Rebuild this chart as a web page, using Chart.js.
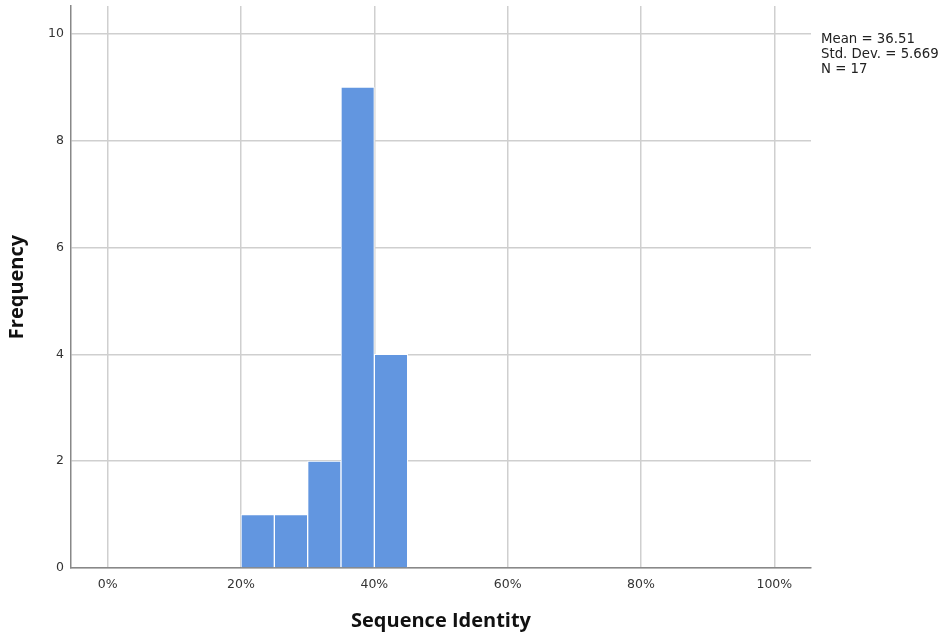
<!DOCTYPE html>
<html>
<head>
<meta charset="utf-8">
<script src="https://cdn.jsdelivr.net/npm/chart.js@4/dist/chart.umd.min.js"></script>
<style>
  html, body { margin: 0; padding: 0; background: #fff; }
  #wrap { position: relative; width: 942px; height: 636px; }
  #stats {
    position: absolute; left: 821px; top: 31px;
    font: 13.3px "DejaVu Sans", sans-serif; line-height: 15px; color: #222;
  }
</style>
</head>
<body>
<div id="wrap">
  <canvas id="histChart" width="942" height="636"></canvas>
  <div id="stats">Mean = 36.51<br>Std. Dev. = 5.669<br>N = 17</div>
</div>
<script>
// bin centres (% identity), 5% wide bins
const binCenters = [22.5, 27.5, 32.5, 37.5, 42.5];
const frequencies = [1, 1, 2, 9, 4];
const xTickValues = [0, 20, 40, 60, 80, 100];
const yTickValues = [0, 2, 4, 6, 8, 10];

const gridColor = '#cfcfcf';
const axisColor = '#888888';
const tickFont = { family: 'DejaVu Sans', size: 12.5 };
const titleFont = { family: 'Open Sans', size: 20, weight: 'bold' };

const ctx = document.getElementById('histChart');

new Chart(ctx, {
    type: 'bar',
    data: {
        datasets: [{
            data: binCenters.map((x, i) => ({ x: x, y: frequencies[i] })),
            backgroundColor: '#6296e0',
            borderColor: '#ffffff',
            borderWidth: 1,
            barPercentage: 1,
            categoryPercentage: 1
        }]
    },
    options: {
        responsive: false,
        animation: false,
        layout: { padding: { left: 0, right: 131, top: 6, bottom: 0 } },
        plugins: {
            legend: { display: false },
            tooltip: { enabled: false }
        },
        scales: {
            x: {
                type: 'linear',
                min: -5.5,
                max: 105.5,
                offset: false,
                afterBuildTicks: (scale) => { scale.ticks = xTickValues.map(v => ({ value: v })); },
                afterFit: (scale) => {
                    scale.height = 68;
                    scale.paddingLeft = 0;
                    scale.paddingRight = 0;
                },
                grid: { color: gridColor, lineWidth: 1.5, drawTicks: false, offset: false },
                border: { color: axisColor, width: 1.5 },
                ticks: {
                    color: '#333',
                    font: tickFont,
                    padding: 9,
                    maxRotation: 0,
                    callback: (v) => v + '%'
                },
                title: {
                    display: true,
                    text: 'Sequence Identity',
                    color: '#111',
                    font: titleFont,
                    padding: { top: 0, bottom: 3 }
                }
            },
            y: {
                min: 0,
                max: 10.52,
                afterBuildTicks: (scale) => { scale.ticks = yTickValues.map(v => ({ value: v })); },
                afterFit: (scale) => {
                    scale.width = 71;
                    scale.paddingTop = 0;
                    scale.paddingBottom = 0;
                },
                grid: { color: gridColor, lineWidth: 1.5, drawTicks: false },
                border: { color: axisColor, width: 1.5 },
                ticks: {
                    color: '#333',
                    font: tickFont,
                    padding: 7
                },
                title: {
                    display: true,
                    text: 'Frequency',
                    color: '#111',
                    font: titleFont,
                    padding: { top: 5, bottom: 0 }
                }
            }
        }
    }
});
</script>
</body>
</html>
